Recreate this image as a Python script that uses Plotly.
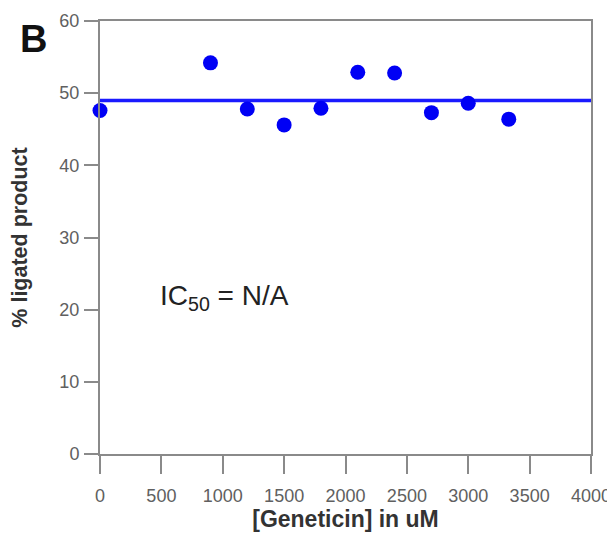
import plotly.graph_objects as go

# Data
concentration_uM = [0, 900, 1200, 1500, 1800, 2100, 2400, 2700, 3000, 3330]
pct_ligated = [47.6, 54.2, 47.8, 45.6, 47.9, 52.9, 52.8, 47.3, 48.6, 46.4]
fit_x = [0, 4000]
fit_level = 49.0
x_ticks = [0, 500, 1000, 1500, 2000, 2500, 3000, 3500, 4000]
y_ticks = [0, 10, 20, 30, 40, 50, 60]

FONT = "Liberation Sans, Arial, sans-serif"

fig = go.Figure()
fig.add_trace(go.Scatter(
    x=fit_x, y=[fit_level] * len(fit_x), mode="lines",
    line=dict(color="#1a1aff", width=3.5), showlegend=False, hoverinfo="skip"))
fig.add_trace(go.Scatter(
    x=concentration_uM, y=pct_ligated, mode="markers",
    marker=dict(color="#0000f5", size=15), cliponaxis=False, showlegend=False))

axis_common = dict(showline=True, linecolor="#8a8a8a", linewidth=2, mirror=True,
                   ticks="outside", tickcolor="#8a8a8a", tickwidth=2,
                   showgrid=False, zeroline=False, automargin=False,
                   tickfont=dict(family=FONT, size=18, color="#606060"))

# page body adds ~8px offset, so the figure is sized to fit the window
W, H = 607, 525
L, R, T, B = 92, 24, 13, 79
fig.update_layout(
    width=W, height=H,
    margin=dict(l=L, r=R, t=T, b=B),
    paper_bgcolor="white", plot_bgcolor="white",
    xaxis=dict(range=[0, 4000], tickvals=x_ticks, ticklen=18, ticklabelstandoff=6,
               title=dict(text="[Geneticin] in uM", standoff=6,
                          font=dict(family=FONT, size=23, color="#333333", weight="bold")),
               **axis_common),
    yaxis=dict(range=[0, 60], tickvals=y_ticks, ticklen=14, ticklabelstandoff=1,
               title=dict(text="% ligated product", standoff=26,
                          font=dict(family=FONT, size=21.5, color="#333333", weight="bold")),
               **axis_common),
    annotations=[
        dict(text="<b>B</b>", xref="paper", yref="paper", showarrow=False,
             x=(25 - L) / (W - L - R), y=1 - (31 - T) / (H - T - B),
             xanchor="center", yanchor="middle",
             font=dict(family=FONT, size=38, color="#111111")),
        dict(text="IC<sub>50</sub> = N/A", x=1015, y=21.7, xref="x", yref="y", showarrow=False,
             font=dict(family=FONT, size=28, color="#222222")),
    ],
)

fig.write_html("out.html")
